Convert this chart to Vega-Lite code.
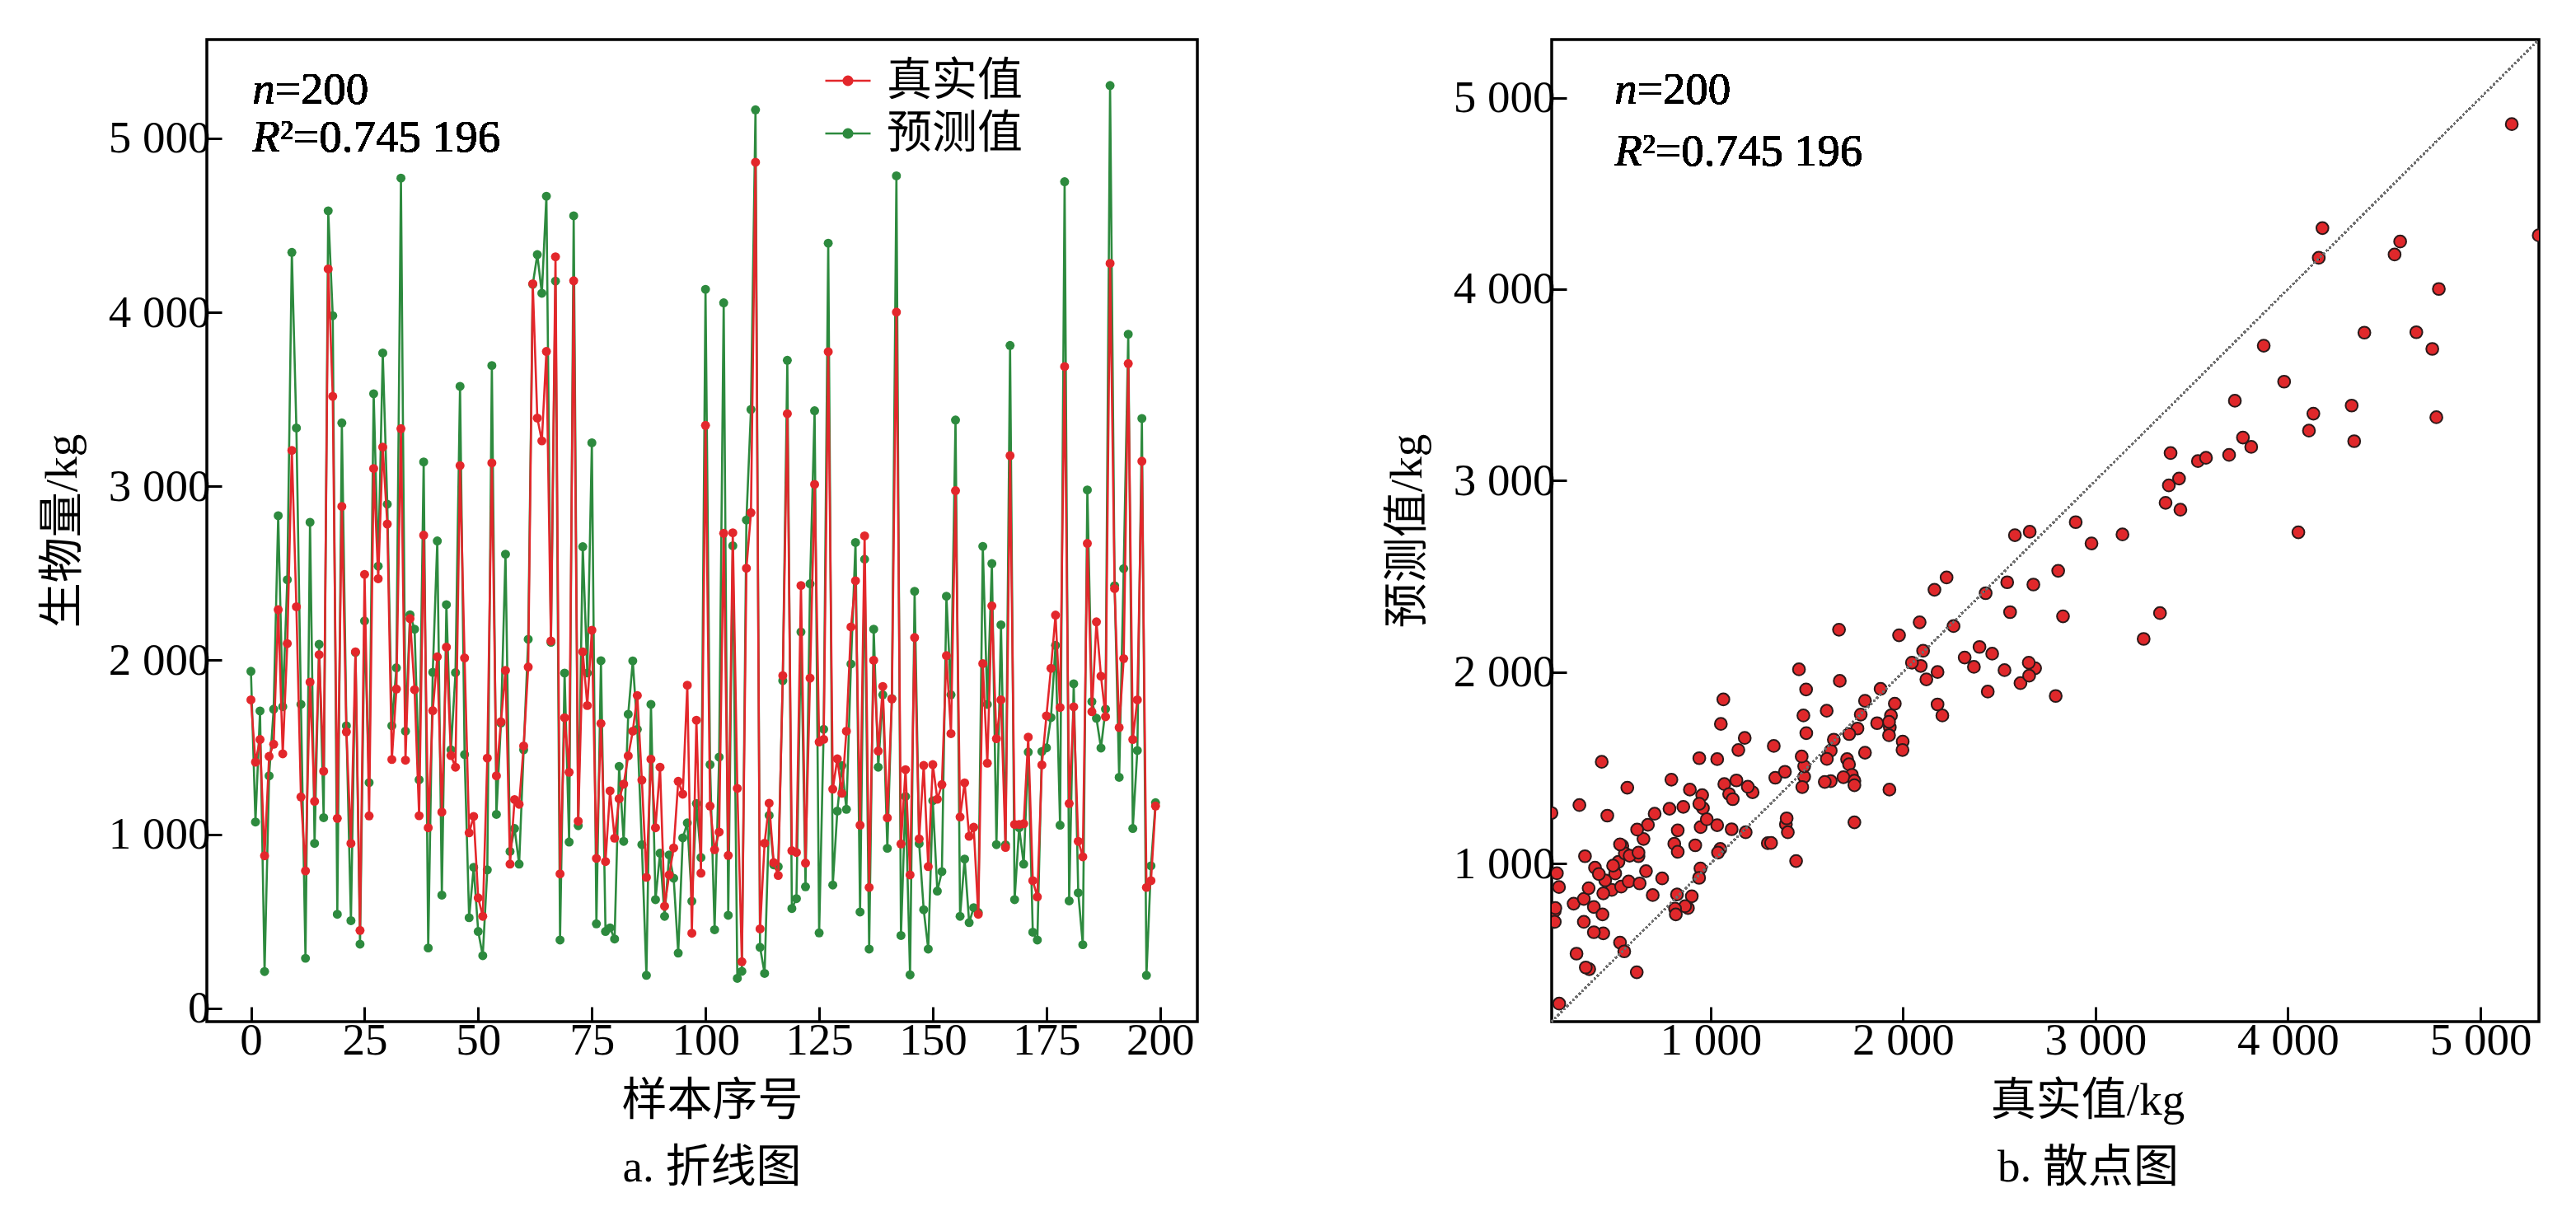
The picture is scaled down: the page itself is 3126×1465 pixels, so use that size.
{
  "$schema": "https://vega.github.io/schema/vega-lite/v6.json",
  "background": "white",
  "padding": {"left": 46, "top": 45, "right": 0, "bottom": 0},
  "autosize": {"type": "pad"},
  "bounds": "flush",
  "spacing": 430,
  "config": {
    "font": "'Liberation Serif', 'Noto Sans CJK SC', serif",
    "view": {"stroke": "#000000", "strokeWidth": 3.5},
    "axis": {
      "domain": false, "grid": false,
      "tickSize": -18, "tickWidth": 3, "tickColor": "#000000",
      "labelFont": "'Liberation Serif', 'Noto Sans CJK SC', serif",
      "labelFontSize": 55, "labelColor": "#000000",
      "titleFont": "'Liberation Serif', 'Noto Sans CJK SC', serif",
      "titleFontSize": 55, "titleFontWeight": "normal", "titleColor": "#000000",
      "labelFlush": false
    },
    "axisX": {"labelPadding": 14, "titlePadding": 19},
    "axisY": {"labelPadding": 14, "titlePadding": 27},
    "title": {"font": "'Liberation Serif', 'Noto Sans CJK SC', serif", "fontSize": 55, "fontWeight": "normal", "color": "#000000"}
  },
  "datasets": {
    "d": [
      {"i":0,"真实值":1773,"预测值":1937},{"i":1,"真实值":1415,"预测值":1071},{"i":2,"真实值":1545,"预测值":1709},{"i":3,"真实值":877,"预测值":212},{"i":4,"真实值":1448,"预测值":1336},
      {"i":5,"真实值":1518,"预测值":1719},{"i":6,"真实值":2291,"预测值":2831},{"i":7,"真实值":1463,"预测值":1734},{"i":8,"真实值":2096,"预测值":2463},{"i":9,"真实值":3206,"预测值":4344},
      {"i":10,"真实值":2308,"预测值":3335},{"i":11,"真实值":1215,"预测值":1747},{"i":12,"真实值":790,"预测值":288},{"i":13,"真实值":1875,"预测值":2793},{"i":14,"真实值":1190,"预测值":948},
      {"i":15,"真实值":2032,"预测值":2092},{"i":16,"真实值":1363,"预测值":1096},{"i":17,"真实值":4249,"预测值":4583},{"i":18,"真实值":3517,"预测值":3980},{"i":19,"真实值":1092,"预测值":541},
      {"i":20,"真实值":2884,"预测值":3364},{"i":21,"真实值":1589,"预测值":1624},{"i":22,"真实值":948,"预测值":504},{"i":23,"真实值":2049,"预测值":2046},{"i":24,"真实值":448,"预测值":369},
      {"i":25,"真实值":2494,"预测值":2226},{"i":26,"真实值":1106,"预测值":1297},{"i":27,"真实值":3102,"预测值":3532},{"i":28,"真实值":2469,"预测值":2541},{"i":29,"真实值":3225,"预测值":3766},
      {"i":30,"真实值":2783,"预测值":2897},{"i":31,"真实值":1430,"预测值":1624},{"i":32,"真实值":1835,"预测值":1957},{"i":33,"真实值":3331,"预测值":4771},{"i":34,"真实值":1426,"预测值":1593},
      {"i":35,"真实值":2240,"预测值":2262},{"i":36,"真实值":1831,"预测值":2179},{"i":37,"真实值":1107,"预测值":1314},{"i":38,"真实值":2719,"预测值":3140},{"i":39,"真实值":1038,"预测值":347},
      {"i":40,"真实值":1711,"预测值":1931},{"i":41,"真实值":2020,"预测值":2686},{"i":42,"真实值":1128,"预测值":651},{"i":43,"真实值":2076,"预测值":2320},{"i":44,"真实值":1453,"预测值":1486},
      {"i":45,"真实值":1386,"预测值":1929},{"i":46,"真实值":3119,"预测值":3574},{"i":47,"真实值":2014,"预测值":1459},{"i":48,"真实值":1009,"预测值":521},{"i":49,"真实值":1103,"预测值":811},
      {"i":50,"真实值":635,"预测值":442},{"i":51,"真实值":529,"预测值":303},{"i":52,"真实值":1438,"预测值":796},{"i":53,"真实值":3134,"预测值":3694},{"i":54,"真实值":1336,"预测值":1115},
      {"i":55,"真实值":1647,"预测值":1640},{"i":56,"真实值":1942,"预测值":2610},{"i":57,"真实值":829,"预测值":902},{"i":58,"真实值":1200,"预测值":1034},{"i":59,"真实值":1173,"预测值":829},
      {"i":60,"真实值":1508,"预测值":1486},{"i":61,"真实值":1962,"预测值":2121},{"i":62,"真实值":4164,"预测值":4160},{"i":63,"真实值":3392,"预测值":4331},{"i":64,"真实值":3261,"预测值":4109},
      {"i":65,"真实值":3775,"预测值":4667},{"i":66,"真实值":2111,"预测值":2104},{"i":67,"真实值":4319,"预测值":4179},{"i":68,"真实值":773,"预测值":393},{"i":69,"真实值":1670,"预测值":1927},
      {"i":70,"真实值":1357,"预测值":956},{"i":71,"真实值":4181,"预测值":4554},{"i":72,"真实值":1076,"预测值":1050},{"i":73,"真实值":2049,"预测值":2653},{"i":74,"真实值":1740,"预测值":1927},
      {"i":75,"真实值":2173,"预测值":3250},{"i":76,"真实值":862,"预测值":486},{"i":77,"真实值":1637,"预测值":1998},{"i":78,"真实值":844,"预测值":442},{"i":79,"真实值":1250,"预测值":463},
      {"i":80,"真实值":978,"预测值":399},{"i":81,"真实值":1205,"预测值":1391},{"i":82,"真实值":1289,"预测值":960},{"i":83,"真实值":1451,"预测值":1690},{"i":84,"真实值":1593,"预测值":1997},
      {"i":85,"真实值":1798,"预测值":1603},{"i":86,"真实值":1312,"预测值":941},{"i":87,"真实值":753,"预测值":190},{"i":88,"真实值":1432,"预测值":1747},{"i":89,"真实值":1038,"预测值":625},
      {"i":90,"真实值":1386,"预测值":892},{"i":91,"真实值":587,"预测值":529},{"i":92,"真实值":767,"预测值":882},{"i":93,"真实值":922,"预测值":748},{"i":94,"真实值":1305,"预测值":318},
      {"i":95,"真实值":1231,"预测值":980},{"i":96,"真实值":1857,"预测值":1066},{"i":97,"真实值":432,"预测值":616},{"i":98,"真实值":1656,"预测值":1177},{"i":99,"真实值":777,"预测值":867},
      {"i":100,"真实值":3350,"预测值":4132},{"i":101,"真实值":1163,"预测值":1401},{"i":102,"真实值":912,"预测值":452},{"i":103,"真实值":1013,"预测值":1444},{"i":104,"真实值":2730,"预测值":4054},
      {"i":105,"真实值":879,"预测值":535},{"i":106,"真实值":2733,"预测值":2658},{"i":107,"真实值":1264,"预测值":173},{"i":108,"真实值":268,"预测值":213},{"i":109,"真实值":2529,"预测值":2806},
      {"i":110,"真实值":2848,"预测值":3441},{"i":111,"真实值":4862,"预测值":5163},{"i":112,"真实值":457,"预测值":351},{"i":113,"真实值":949,"预测值":201},{"i":114,"真实值":1179,"预测值":1109},
      {"i":115,"真实值":838,"预测值":825},{"i":116,"真实值":764,"预测值":815},{"i":117,"真实值":1912,"预测值":1883},{"i":118,"真实值":3417,"预测值":3724},{"i":119,"真实值":906,"预测值":574},
      {"i":120,"真实值":896,"预测值":631},{"i":121,"真实值":2430,"预测值":2163},{"i":122,"真实值":835,"预测值":699},{"i":123,"真实值":1898,"预测值":2440},{"i":124,"真实值":3011,"预测值":3434},
      {"i":125,"真实值":1531,"预测值":434},{"i":126,"真实值":1546,"预测值":1604},{"i":127,"真实值":3773,"预测值":4397},{"i":128,"真实值":1260,"预测值":709},{"i":129,"真实值":1434,"预测值":1134},
      {"i":130,"真实值":1236,"预测值":1395},{"i":131,"真实值":1593,"预测值":1144},{"i":132,"真实值":2192,"预测值":1979},{"i":133,"真实值":2457,"预测值":2677},{"i":134,"真实值":1053,"预测值":554},
      {"i":135,"真实值":2715,"预测值":2581},{"i":136,"真实值":695,"预测值":341},{"i":137,"真实值":2000,"预测值":2179},{"i":138,"真实值":1479,"预测值":1386},{"i":139,"真实值":1850,"预测值":1802},
      {"i":140,"真实值":1095,"预测值":920},{"i":141,"真实值":1778,"预测值":1780},{"i":142,"真实值":4001,"预测值":4784},{"i":143,"真实值":945,"预测值":419},{"i":144,"真实值":1372,"预测值":1218},
      {"i":145,"真实值":767,"预测值":193},{"i":146,"真实值":2131,"预测值":2397},{"i":147,"真实值":974,"预测值":947},{"i":148,"真实值":1396,"预测值":567},{"i":149,"真实值":815,"预测值":341},
      {"i":150,"真实值":1401,"预测值":1193},{"i":151,"真实值":1202,"预测值":674},{"i":152,"真实值":1286,"预测值":786},{"i":153,"真实值":2027,"预测值":2368},{"i":154,"真实值":1579,"预测值":1802},
      {"i":155,"真实值":2975,"预测值":3381},{"i":156,"真实值":1100,"预测值":529},{"i":157,"真实值":1296,"预测值":858},{"i":158,"真实值":989,"预测值":493},{"i":159,"真实值":1041,"预测值":579},
      {"i":160,"真实值":541,"预测值":551},{"i":161,"真实值":1981,"预测值":2655},{"i":162,"真实值":1409,"预测值":1747},{"i":163,"真实值":2313,"预测值":2556},{"i":164,"真实值":1550,"预测值":941},
      {"i":165,"真实值":1773,"预测值":2204},{"i":166,"真实值":925,"预测值":940},{"i":167,"真实值":3176,"预测值":3809},{"i":168,"真实值":1057,"预测值":625},{"i":169,"真实值":1057,"预测值":1038},
      {"i":170,"真实值":1061,"预测值":829},{"i":171,"真实值":1559,"预测值":1473},{"i":172,"真实值":734,"预测值":438},{"i":173,"真实值":641,"预测值":393},{"i":174,"真实值":1399,"预测值":1476},
      {"i":175,"真实值":1681,"预测值":1497},{"i":176,"真实值":1954,"预测值":1671},{"i":177,"真实值":2260,"预测值":2086},{"i":178,"真实值":1729,"预测值":1053},{"i":179,"真实值":3688,"预测值":4750},
      {"i":180,"真实值":1177,"预测值":618},{"i":181,"真实值":1733,"预测值":1865},{"i":182,"真实值":960,"预测值":664},{"i":183,"真实值":871,"预测值":366},{"i":184,"真实值":2672,"预测值":2979},
      {"i":185,"真实值":1705,"预测值":1763},{"i":186,"真实值":2221,"预测值":1667},{"i":187,"真实值":1909,"预测值":1496},{"i":188,"真实值":1676,"预测值":1720},{"i":189,"真实值":4281,"预测值":5303},
      {"i":190,"真实值":2412,"预测值":2429},{"i":191,"真实值":1614,"预测值":1328},{"i":192,"真实值":2010,"预测值":2527},{"i":193,"真实值":3705,"预测值":3874},{"i":194,"真实值":1545,"预测值":1034},
      {"i":195,"真实值":1773,"预测值":1482},{"i":196,"真实值":3144,"预测值":3390},{"i":197,"真实值":695,"预测值":190},{"i":198,"真实值":734,"预测值":819},{"i":199,"真实值":1163,"预测值":1182}
    ]
  },
  "hconcat": [
    {
      "width": 1202,
      "height": 1192,
      "title": {"text": "a. 折线图", "orient": "bottom", "anchor": "middle", "offset": 28, "dx": 12},
      "data": {"name": "d"},
      "transform": [{"fold": ["真实值", "预测值"], "as": ["series", "value"]}],
      "layer": [
        {
          "transform": [{"filter": "datum.series === '预测值'"}],
          "mark": {"type": "line", "strokeWidth": 2.6, "point": {"filled": true, "size": 120, "strokeWidth": 0}},
          "encoding": {
            "x": {"field": "i", "type": "quantitative", "scale": {"domain": [-9.7, 208.2], "nice": false, "zero": false},
                  "axis": {"values": [0, 25, 50, 75, 100, 125, 150, 175, 200], "title": "样本序号", "titleX": 613}},
            "y": {"field": "value", "type": "quantitative", "scale": {"domain": [-76, 5567], "nice": false, "zero": false},
                  "axis": {"values": [0, 1000, 2000, 3000, 4000, 5000], "labelExpr": "replace(format(datum.value, ','), ',', ' ')", "title": "生物量/kg"}},
            "color": {"field": "series", "type": "nominal",
                      "scale": {"domain": ["真实值", "预测值"], "range": ["#E3272B", "#2D8A3E"]},
                      "legend": {
                        "orient": "none", "legendX": 749, "legendY": 21, "title": null, "padding": 0,
                        "symbolType": "M-1,0L1,0M-0.19,0A0.19,0.19 0 1,0 0.19,0A0.19,0.19 0 1,0 -0.19,0Z",
                        "symbolSize": 3025, "symbolStrokeWidth": 2.6,
                        "labelFontSize": 55, "labelOffset": 18, "rowPadding": 7, "labelColor": "#000000", "labelLimit": 0,
                        "labelFont": "'Liberation Serif', 'Noto Sans CJK SC', serif",
                        "encode": {"symbols": {"update": {
                          "fill": {"signal": "datum.value === '真实值' ? '#E3272B' : '#2D8A3E'"},
                          "stroke": {"signal": "datum.value === '真实值' ? '#E3272B' : '#2D8A3E'"},
                          "opacity": {"value": 1}, "fillOpacity": {"value": 1}, "strokeOpacity": {"value": 1}
                        }}}
                      }}
          }
        },
        {
          "transform": [{"filter": "datum.series === '真实值'"}],
          "mark": {"type": "line", "strokeWidth": 2.6, "point": {"filled": true, "size": 120, "strokeWidth": 0}},
          "encoding": {
            "x": {"field": "i", "type": "quantitative"},
            "y": {"field": "value", "type": "quantitative"},
            "color": {"field": "series", "type": "nominal"}
          }
        },
        {
          "mark": {"type": "text", "text": "n", "fontStyle": "italic", "fontSize": 55, "align": "left", "baseline": "alphabetic", "color": "#000000"},
          "encoding": {"x": {"datum": 0.3, "type": "quantitative"}, "y": {"datum": 5200, "type": "quantitative"}}
        },
        {
          "mark": {"type": "text", "text": "=200", "fontSize": 55, "align": "left", "baseline": "alphabetic", "dx": 27.5, "color": "#000000"},
          "encoding": {"x": {"datum": 0.3, "type": "quantitative"}, "y": {"datum": 5200, "type": "quantitative"}}
        },
        {
          "mark": {"type": "text", "text": "R", "fontStyle": "italic", "fontSize": 55, "align": "left", "baseline": "alphabetic", "color": "#000000"},
          "encoding": {"x": {"datum": 0.3, "type": "quantitative"}, "y": {"datum": 4921, "type": "quantitative"}}
        },
        {
          "mark": {"type": "text", "text": "²=0.745 196", "fontSize": 55, "align": "left", "baseline": "alphabetic", "dx": 33.6, "color": "#000000"},
          "encoding": {"x": {"datum": 0.3, "type": "quantitative"}, "y": {"datum": 4921, "type": "quantitative"}}
        }
      ]
    },
    {
      "width": 1198,
      "height": 1192,
      "title": {"text": "b. 散点图", "orient": "bottom", "anchor": "middle", "offset": 28, "dx": 52},
      "data": {"name": "d"},
      "layer": [
        {
          "mark": {"type": "point", "filled": true, "shape": "circle", "size": 216, "color": "#E0282B", "stroke": "#2A1A1A", "strokeWidth": 2, "opacity": 1, "clip": true},
          "encoding": {
            "x": {"field": "预测值", "type": "quantitative", "scale": {"domain": [174, 5304], "nice": false, "zero": false},
                  "axis": {"values": [1000, 2000, 3000, 4000, 5000], "labelExpr": "replace(format(datum.value, ','), ',', ' ')", "title": "真实值/kg", "titleX": 650}},
            "y": {"field": "真实值", "type": "quantitative", "scale": {"domain": [174, 5304], "nice": false, "zero": false},
                  "axis": {"values": [1000, 2000, 3000, 4000, 5000], "labelExpr": "replace(format(datum.value, ','), ',', ' ')", "title": "预测值/kg"}}
          }
        },
        {
          "mark": {"type": "rule", "color": "#707070", "strokeWidth": 2.2, "strokeDash": [2, 3.2]},
          "encoding": {
            "x": {"datum": 174, "type": "quantitative"}, "y": {"datum": 174, "type": "quantitative"},
            "x2": {"datum": 5304}, "y2": {"datum": 5304}
          }
        },
        {
          "mark": {"type": "text", "text": "n", "fontStyle": "italic", "fontSize": 55, "align": "left", "baseline": "alphabetic", "color": "#000000"},
          "encoding": {"x": {"datum": 500, "type": "quantitative"}, "y": {"datum": 4968, "type": "quantitative"}}
        },
        {
          "mark": {"type": "text", "text": "=200", "fontSize": 55, "align": "left", "baseline": "alphabetic", "dx": 27.5, "color": "#000000"},
          "encoding": {"x": {"datum": 500, "type": "quantitative"}, "y": {"datum": 4968, "type": "quantitative"}}
        },
        {
          "mark": {"type": "text", "text": "R", "fontStyle": "italic", "fontSize": 55, "align": "left", "baseline": "alphabetic", "color": "#000000"},
          "encoding": {"x": {"datum": 500, "type": "quantitative"}, "y": {"datum": 4645, "type": "quantitative"}}
        },
        {
          "mark": {"type": "text", "text": "²=0.745 196", "fontSize": 55, "align": "left", "baseline": "alphabetic", "dx": 33.6, "color": "#000000"},
          "encoding": {"x": {"datum": 500, "type": "quantitative"}, "y": {"datum": 4645, "type": "quantitative"}}
        }
      ]
    }
  ]
}
